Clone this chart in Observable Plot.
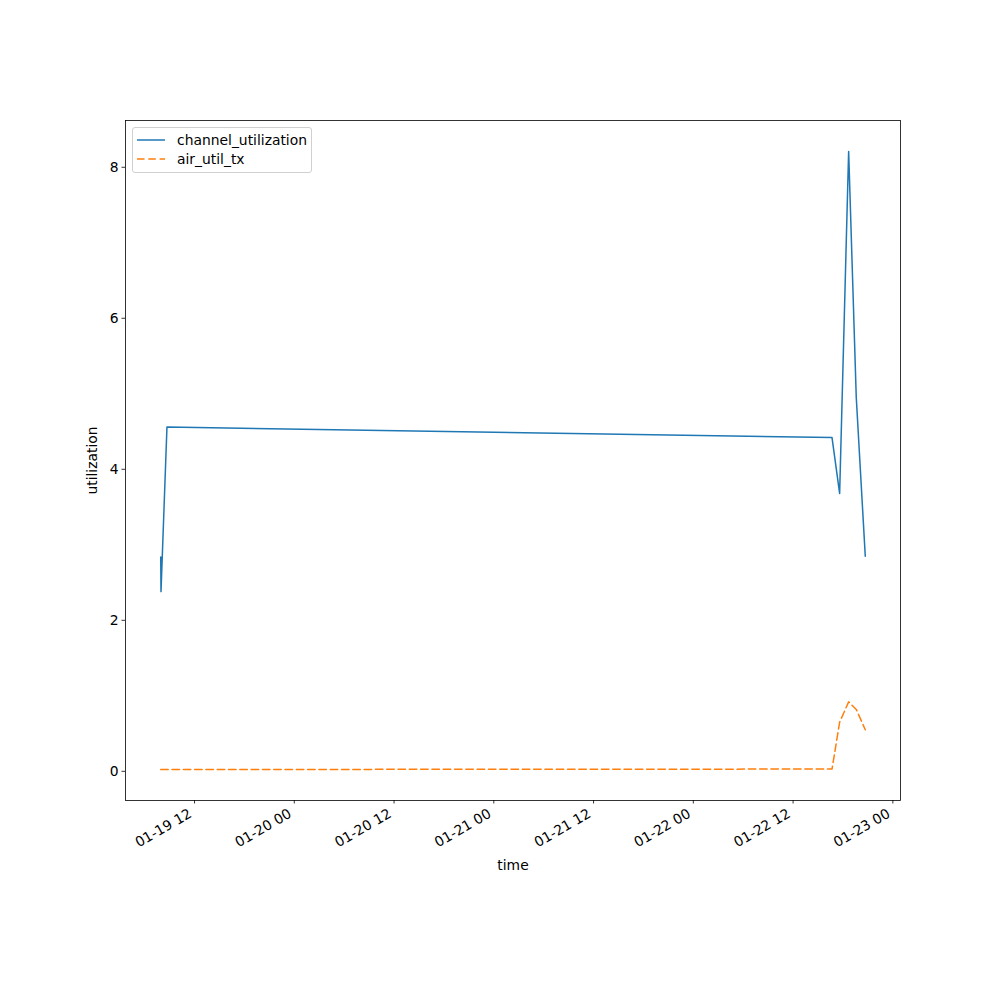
<!DOCTYPE html>
<html>
<head>
<meta charset="utf-8">
<script src="https://cdn.jsdelivr.net/npm/d3@7"></script>
<script src="https://cdn.jsdelivr.net/npm/@observablehq/plot@0.6"></script>
<style>
  html, body { margin: 0; padding: 0; background: white; }
  #wrap { position: relative; width: 1000px; height: 1000px; font-family: "DejaVu Sans", sans-serif; }
  #legend { position: absolute; left: 132px; top: 127px; width: 180px; height: 46px; box-sizing: border-box;
            border: 1px solid #d0d0d0; border-radius: 3px; background: rgba(255,255,255,0.8); font-size: 13.89px; }
  .row { position: absolute; left: 0; height: 18px; display: flex; align-items: center; }
  .row svg { margin-left: 4px; margin-right: 12px; }
</style>
</head>
<body>
<div id="wrap"></div>
<script>
// ---- data ----
const times = [
  "2024-01-19T07:56Z", "2024-01-19T07:58Z", "2024-01-19T08:41Z",
  "2024-01-22T16:41Z", "2024-01-22T17:36Z", "2024-01-22T18:41Z",
  "2024-01-22T19:36Z", "2024-01-22T20:41Z"
];
const channelUtilization = [2.84, 2.38, 4.56, 4.42, 3.68, 8.21, 4.95, 2.85];
const airUtilTx = [0.023, 0.023, 0.024, 0.03, 0.65, 0.92, 0.82, 0.55];
const yTicks = [0, 2, 4, 6, 8];
const xTickStrings = [
  "2024-01-19T12:00Z", "2024-01-20T00:00Z", "2024-01-20T12:00Z", "2024-01-21T00:00Z",
  "2024-01-21T12:00Z", "2024-01-22T00:00Z", "2024-01-22T12:00Z", "2024-01-23T00:00Z"
];
const seriesNames = ["channel_utilization", "air_util_tx"];
const colors = ["#1f77b4", "#ff7f0e"];
const dashPattern = "7.5,3.8";

// ---- build ----
const dates = times.map(s => new Date(s));
const xTicks = xTickStrings.map(s => new Date(s));
const blue = dates.map((t, i) => ({t, v: channelUtilization[i]}));
const orange = dates.map((t, i) => ({t, v: airUtilTx[i]}));

const tMin = +d3.min(dates), tMax = +d3.max(dates);
const tPad = (tMax - tMin) * 0.05;
const allV = channelUtilization.concat(airUtilTx);
const vMin = d3.min(allV), vMax = d3.max(allV);
const vPad = (vMax - vMin) * 0.05;

const fmt = d3.utcFormat("%m-%d %H");

const chart = Plot.plot({
  width: 1000,
  height: 1000,
  marginLeft: 125,
  marginRight: 100,
  marginTop: 120,
  marginBottom: 200,
  x: {type: "utc", domain: [new Date(tMin - tPad), new Date(tMax + tPad)]},
  y: {domain: [vMin - vPad, vMax + vPad]},
  style: {fontFamily: "DejaVu Sans", fontSize: "13.89px", color: "black", background: "white"},
  marks: [
    Plot.axisY({ticks: yTicks, tickSize: 3.5, tickPadding: 3.5, strokeWidth: 0.8, label: null, tickFormat: d => String(d)}),
    Plot.axisX({ticks: xTicks, tickSize: 3.5, tickPadding: 4, strokeWidth: 0.8, label: null, tickFormat: () => ""}),
    Plot.axisX({ticks: xTicks, tickSize: 0, tickPadding: 4, tickRotate: -30, textAnchor: "end",
                dx: -4, dy: 8, label: null, tickFormat: fmt}),
    Plot.line(blue, {x: "t", y: "v", stroke: colors[0], strokeWidth: 1.5}),
    Plot.line(orange, {x: "t", y: "v", stroke: colors[1], strokeWidth: 1.5, strokeDasharray: dashPattern}),
    Plot.frame({stroke: "black", strokeWidth: 0.8}),
    Plot.text(["time"], {frameAnchor: "bottom", dy: 69, text: d => d, fontSize: 13.89}),
    Plot.text(["utilization"], {frameAnchor: "left", textAnchor: "middle", dx: -33, rotate: -90, text: d => d, fontSize: 13.89})
  ]
});

const wrap = document.getElementById("wrap");
wrap.appendChild(chart);

const legend = document.createElement("div");
legend.id = "legend";
seriesNames.forEach((name, i) => {
  const row = document.createElement("div");
  row.className = "row";
  row.style.top = (i === 0 ? 3 : 22) + "px";
  const dash = i === 1 ? `stroke-dasharray="${dashPattern}"` : '';
  row.innerHTML = `<svg width="28" height="4"><line x1="0" y1="2" x2="28" y2="2" stroke="${colors[i]}" stroke-width="1.5" ${dash}/></svg><span>${name}</span>`;
  legend.appendChild(row);
});
wrap.appendChild(legend);
</script>
</body>
</html>
